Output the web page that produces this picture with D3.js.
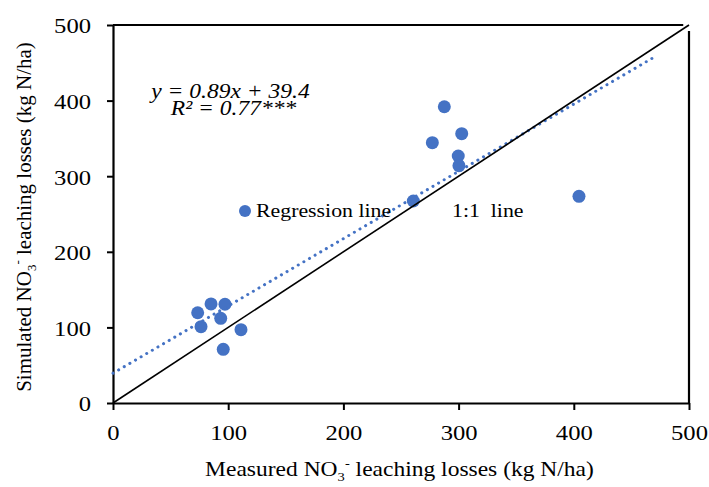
<!DOCTYPE html>
<html>
<head>
<meta charset="utf-8">
<script src="https://cdn.jsdelivr.net/npm/d3@7"></script>
<style>
  body { margin: 0; background: #fff; }
  text { font-family: "Liberation Serif", "Times New Roman", serif; fill: #000; }
</style>
</head>
<body>
<svg id="chart" width="709" height="487"></svg>
<script>
// measured vs simulated NO3- leaching (kg N/ha)
const measured  = [73.5, 76.4, 85.1, 97.2, 93.5, 111.1, 95.7, 287.6, 277.2, 302.7, 299.7, 300.3, 260.7, 404.5];
const simulated = [119.4, 100.9, 131, 130.6, 112, 97, 71, 391.9, 344.3, 356.2, 326.7, 313.9, 267.2, 273.4];
const xTicks = [0, 100, 200, 300, 400, 500];
const yTicks = [0, 100, 200, 300, 400, 500];
const slope = 0.89, intercept = 39.4;
const regRange = [0, 470];
const oneToOne = [0, 500];

const svg = d3.select('#chart');
const blue = '#4472C4';
const sx = 1.12; // the original figure is a little wider than tall

const x = d3.scaleLinear().domain([0, 500]).range([113, 689]);
const y = d3.scaleLinear().domain([0, 500]).range([403, 25]);

const pts = measured.map((m, i) => ({ m, s: simulated[i] }));

// stretch horizontal text about its anchor x
function stretch(sel, ax) {
  sel.attr('transform', `translate(${ax},0) scale(${sx},1) translate(${-ax},0)`);
  return sel;
}

// frame (top and right edges)
svg.append('line')
  .attr('x1', x(0)).attr('x2', x(495)).attr('y1', y(500)).attr('y2', y(500))
  .attr('stroke', '#000').attr('stroke-width', 2.2);
svg.append('line')
  .attr('x1', x(500)).attr('x2', x(500)).attr('y1', y(492)).attr('y2', y(0))
  .attr('stroke', '#000').attr('stroke-width', 2.2);

// axes
const xAxis = svg.append('g')
  .attr('transform', `translate(0,${y(0)})`)
  .call(d3.axisBottom(x).tickValues(xTicks).tickSize(7).tickPadding(14).tickSizeOuter(0));
const yAxis = svg.append('g')
  .attr('transform', `translate(${x(0)},0)`)
  .call(d3.axisLeft(y).tickValues(yTicks).tickSize(6).tickPadding(13.6).tickSizeOuter(0));

[xAxis, yAxis].forEach(g => {
  g.select('.domain').attr('stroke', '#000').attr('stroke-width', 2.2);
  g.selectAll('.tick line').attr('stroke', '#000').attr('stroke-width', 2);
  g.selectAll('.tick text')
    .style('font-family', '"Liberation Serif", serif')
    .style('font-size', '22px')
    .attr('fill', '#000')
    .attr('transform', `scale(${sx},1)`);
});
yAxis.selectAll('.tick text').attr('dy', '0.36em');

// points
svg.append('g').selectAll('circle')
  .data(pts)
  .enter()
  .append('circle')
  .attr('cx', d => x(d.m))
  .attr('cy', d => y(d.s))
  .attr('r', 6.5)
  .attr('fill', blue);

// regression line (dotted)
svg.append('line')
  .attr('x1', x(regRange[0])).attr('y1', y(slope * regRange[0] + intercept))
  .attr('x2', x(regRange[1])).attr('y2', y(slope * regRange[1] + intercept))
  .attr('stroke', blue).attr('stroke-width', 3)
  .attr('stroke-linecap', 'round')
  .attr('stroke-dasharray', '0.1 6.4');

// 1:1 line
svg.append('line')
  .attr('x1', x(oneToOne[0])).attr('y1', y(oneToOne[0]))
  .attr('x2', x(oneToOne[1])).attr('y2', y(oneToOne[1]))
  .attr('stroke', '#000').attr('stroke-width', 1.6);

// equation
stretch(svg.append('text')
  .attr('x', 230.5).attr('y', 98)
  .attr('text-anchor', 'middle')
  .style('font-size', '21px').style('font-style', 'italic')
  .text('y = 0.89x + 39.4'), 230.5);
stretch(svg.append('text')
  .attr('x', 233.5).attr('y', 115)
  .attr('text-anchor', 'middle')
  .style('font-size', '21px').style('font-style', 'italic')
  .text('R² = 0.77***'), 233.5);

// labels
svg.append('circle').attr('cx', 245).attr('cy', 211).attr('r', 6).attr('fill', blue);
stretch(svg.append('text').attr('x', 256).attr('y', 217).style('font-size', '19.5px').text('Regression line'), 256);
stretch(svg.append('text').attr('x', 452).attr('y', 217).style('font-size', '19.5px')
  .attr('xml:space', 'preserve').text('1:1  line'), 452);

// axis titles
const xt = svg.append('text')
  .attr('x', 399.5).attr('y', 476)
  .attr('text-anchor', 'middle')
  .style('font-size', '21px');
xt.append('tspan').text('Measured NO');
xt.append('tspan').attr('dy', 5).style('font-size', '13px').text('3');
xt.append('tspan').attr('dy', -14).style('font-size', '13px').text('-');
xt.append('tspan').attr('dy', 9).text(' leaching losses (kg N/ha)');
stretch(xt, 399.5);

const yt = svg.append('text')
  .attr('transform', 'translate(31,217) rotate(-90)')
  .attr('text-anchor', 'middle')
  .style('font-size', '21px');
yt.append('tspan').text('Simulated NO');
yt.append('tspan').attr('dy', 5).style('font-size', '13px').text('3');
yt.append('tspan').attr('dy', -14).style('font-size', '13px').text('-');
yt.append('tspan').attr('dy', 9).text(' leaching losses (kg N/ha)');
</script>
</body>
</html>
